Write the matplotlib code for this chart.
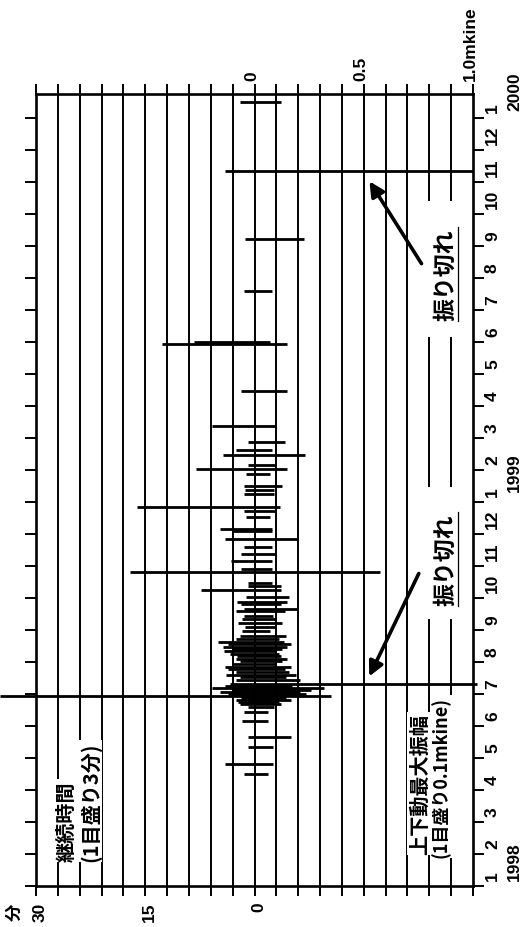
import numpy as np
import matplotlib.pyplot as plt
from matplotlib.lines import Line2D
from matplotlib.patches import Rectangle, FancyArrowPatch

plt.rcParams['font.family'] = ['Liberation Sans', 'Noto Sans CJK JP']

# months counted from 1998-01-01, duration in minutes, amplitude in mkine
months = [24.5, 22.34, 20.22, 18.59, 17.0, 16.94, 15.47,
          14.38, 13.88, 13.63, 13.47, 13.16, 13.03, 12.88, 12.5, 12.38, 12.25,
          11.84, 11.72, 11.53, 11.16, 11.09, 10.84, 10.59, 10.38, 10.16, 9.91,
          9.81, 9.47, 9.38, 9.25, 9.03,
          8.88, 8.81, 8.66, 8.59, 8.44, 8.34, 8.22, 8.09, 7.97, 7.81, 7.72,
          7.63, 7.56, 7.47, 7.41, 7.34, 7.25, 7.19, 7.09, 7.03, 6.94, 6.84,
          6.78, 6.69, 6.59, 6.53, 6.44, 6.31, 6.25, 6.19, 6.13, 6.06, 6.0,
          5.94, 5.88, 5.81, 5.75, 5.69, 5.59, 5.44, 5.16, 4.66, 4.34, 3.81, 3.5]
dur = [1.93, 4.0, 1.24, 1.5, 8.3, 12.7, 1.8,
       5.9, 0.83, 2.6, 4.27, 0.96, 8.0, 1.1, 1.38, 1.24, 1.38,
       16.1, 1.5, 1.1, 4.7, 2.9, 4.0, 1.38, 1.8, 3.2, 1.8,
       17.1, 0.96, 0.96, 7.3, 1.1,
       2.34, 1.9, 1.5, 2.5, 1.5, 1.65, 2.2, 1.24, 1.65, 1.93, 2.6,
       4.95, 3.6, 4.27, 3.0, 4.13, 3.3, 2.34, 2.5, 1.93, 2.9, 4.0,
       3.6, 2.6, 3.9, 1.93, 2.5, 3.3, 4.0, 5.8, 3.0, 4.7, 3.6,
       34.9, 1.9, 2.6, 2.2, 1.93, 0.96, 1.5, 1.65, 0.96, 0.96, 4.0, 1.38]
amp = [0.119, 1.0, 0.225, 0.078, 0.069, 0.147, 0.151,
       0.10, 0.138, 0.078, 0.229, 0.096, 0.147, 0.069, 0.124, 0.087, 0.087,
       0.115, 0.10, 0.069, 0.078, 0.078, 0.20, 0.078, 0.10, 0.078, 0.078,
       0.573, 0.078, 0.12, 0.12, 0.156,
       0.151, 0.12, 0.20, 0.14, 0.083, 0.10, 0.128, 0.096, 0.073, 0.142, 0.11,
       0.133, 0.165, 0.151, 0.128, 0.096, 0.11, 0.119, 0.147, 0.128, 0.10, 0.165,
       0.138, 0.156, 0.188, 0.142, 0.21, 1.02, 0.17, 0.317, 0.257, 0.21, 0.234,
       0.35, 0.143, 0.165, 0.11, 0.12, 0.087, 0.06, 0.064, 0.165, 0.083, 0.083, 0.064]

month_labels = [str(m % 12 + 1) for m in range(25)]
years = ['1998', '1999', '2000']
dur_ticks = ['30', '15', '0']
amp_ticks = ['0', '0.5', '1.0mkine']

W, H = 527, 928
fig = plt.figure(figsize=(W / 100, H / 100), dpi=100)
ax = fig.add_axes([36 / W, 41 / H, 437 / W, 792 / H])
ax.set_xlim(-10, 10)
ax.set_ylim(0, 24.75)

# grid: one step = 3 min (left) / 0.1 mkine (right)
ax.vlines(np.arange(-9, 10), 0, 24.75, colors='k', lw=1.4, zorder=1)
for s in ax.spines.values():
    s.set_linewidth(1.9)
ax.set_xticks(np.arange(-10, 11))
ax.set_yticks(np.arange(0, 25))
ax.tick_params(axis='x', top=True, bottom=True, direction='out', length=7,
               width=1.4, labelbottom=False, labeltop=False)
ax.tick_params(axis='y', left=True, right=True, direction='out', length=8,
               width=1.4, labelleft=False, labelright=False)

# events: left = duration, right = amplitude
x0 = -np.array(dur) / 3.0
x1 = np.array(amp) * 10.0
ax.hlines(months, x0, x1, colors='k', lw=2.0, zorder=3, clip_on=False)

# axis labels
tk = dict(rotation=90, rotation_mode='anchor', fontsize=12.5,
          fontweight='bold', annotation_clip=False)
for u, lab in zip([-10, -5, 0], dur_ticks):
    ax.annotate(lab, (u, 0), xycoords=('data', 'axes fraction'),
                xytext=(3, -11), textcoords='offset points',
                ha='right', va='center', **tk)
ax.annotate('分', (-10, 0), xycoords=('data', 'axes fraction'),
            xytext=(-15, -12), textcoords='offset points',
            ha='right', va='center', **tk)
for u, lab in zip([0, 5, 10], amp_ticks):
    ax.annotate(lab, (u, 1), xycoords=('data', 'axes fraction'),
                xytext=(-2, 10), textcoords='offset points',
                ha='left', va='center', **tk)
for m, lab in enumerate(month_labels):
    ax.annotate(lab, (1, m), xycoords=('axes fraction', 'data'),
                xytext=(14, 4), textcoords='offset points',
                ha='left', va='center', **tk)
for m, lab in zip([0.8, 12.95, 24.85], years):
    ax.annotate(lab, (1, m), xycoords=('axes fraction', 'data'),
                xytext=(30, 0), textcoords='offset points',
                ha='center', va='center', **tk)

jp = ['Noto Sans CJK JP']
box = dict(facecolor='white', edgecolor='none', pad=1)
jt = dict(rotation=90, rotation_mode='anchor', ha='left', va='center',
          fontweight='bold', family=jp, bbox=box, zorder=5)
fig.text(66 / W, 1 - 862 / H, '継続時間', fontsize=14.5, **jt)
fig.text(90 / W, 1 - 862 / H, '(1目盛り3分)', fontsize=14.5, **jt)
fig.text(419 / W, 1 - 855 / H, '上下動最大振幅', fontsize=14.5, **jt)
fig.text(441 / W, 1 - 858 / H, '(1目盛り0.1mkine)', fontsize=13, **jt)

# "off-scale" notes with white gaps over the grid
for y_lo, y_hi, y_txt, tail, head in [(202, 338, 275, (423, 267), (368, 180)),
                                      (488, 620, 560, (420, 572), (368, 680))]:
    ax.add_patch(Rectangle((7.6, (887 - y_hi) / 32), 2.0, (y_hi - y_lo) / 32,
                           facecolor='white', edgecolor='none', zorder=2))
    fig.text(446 / W, 1 - y_txt / H, '振り切れ', rotation=90,
             rotation_mode='anchor', ha='center', va='center', fontsize=16.5,
             fontweight='bold', family=jp, zorder=5)
    fig.add_artist(Line2D([458 / W, 458 / W],
                          [1 - (y_txt + 47) / H, 1 - (y_txt - 47) / H],
                          transform=fig.transFigure, color='k', lw=0.9))
    fig.add_artist(FancyArrowPatch(
        (tail[0] / W, 1 - tail[1] / H), (head[0] / W, 1 - head[1] / H),
        transform=fig.transFigure, arrowstyle='-|>', mutation_scale=22,
        lw=2.6, color='k'))

fig.savefig('out.png', dpi=100)
